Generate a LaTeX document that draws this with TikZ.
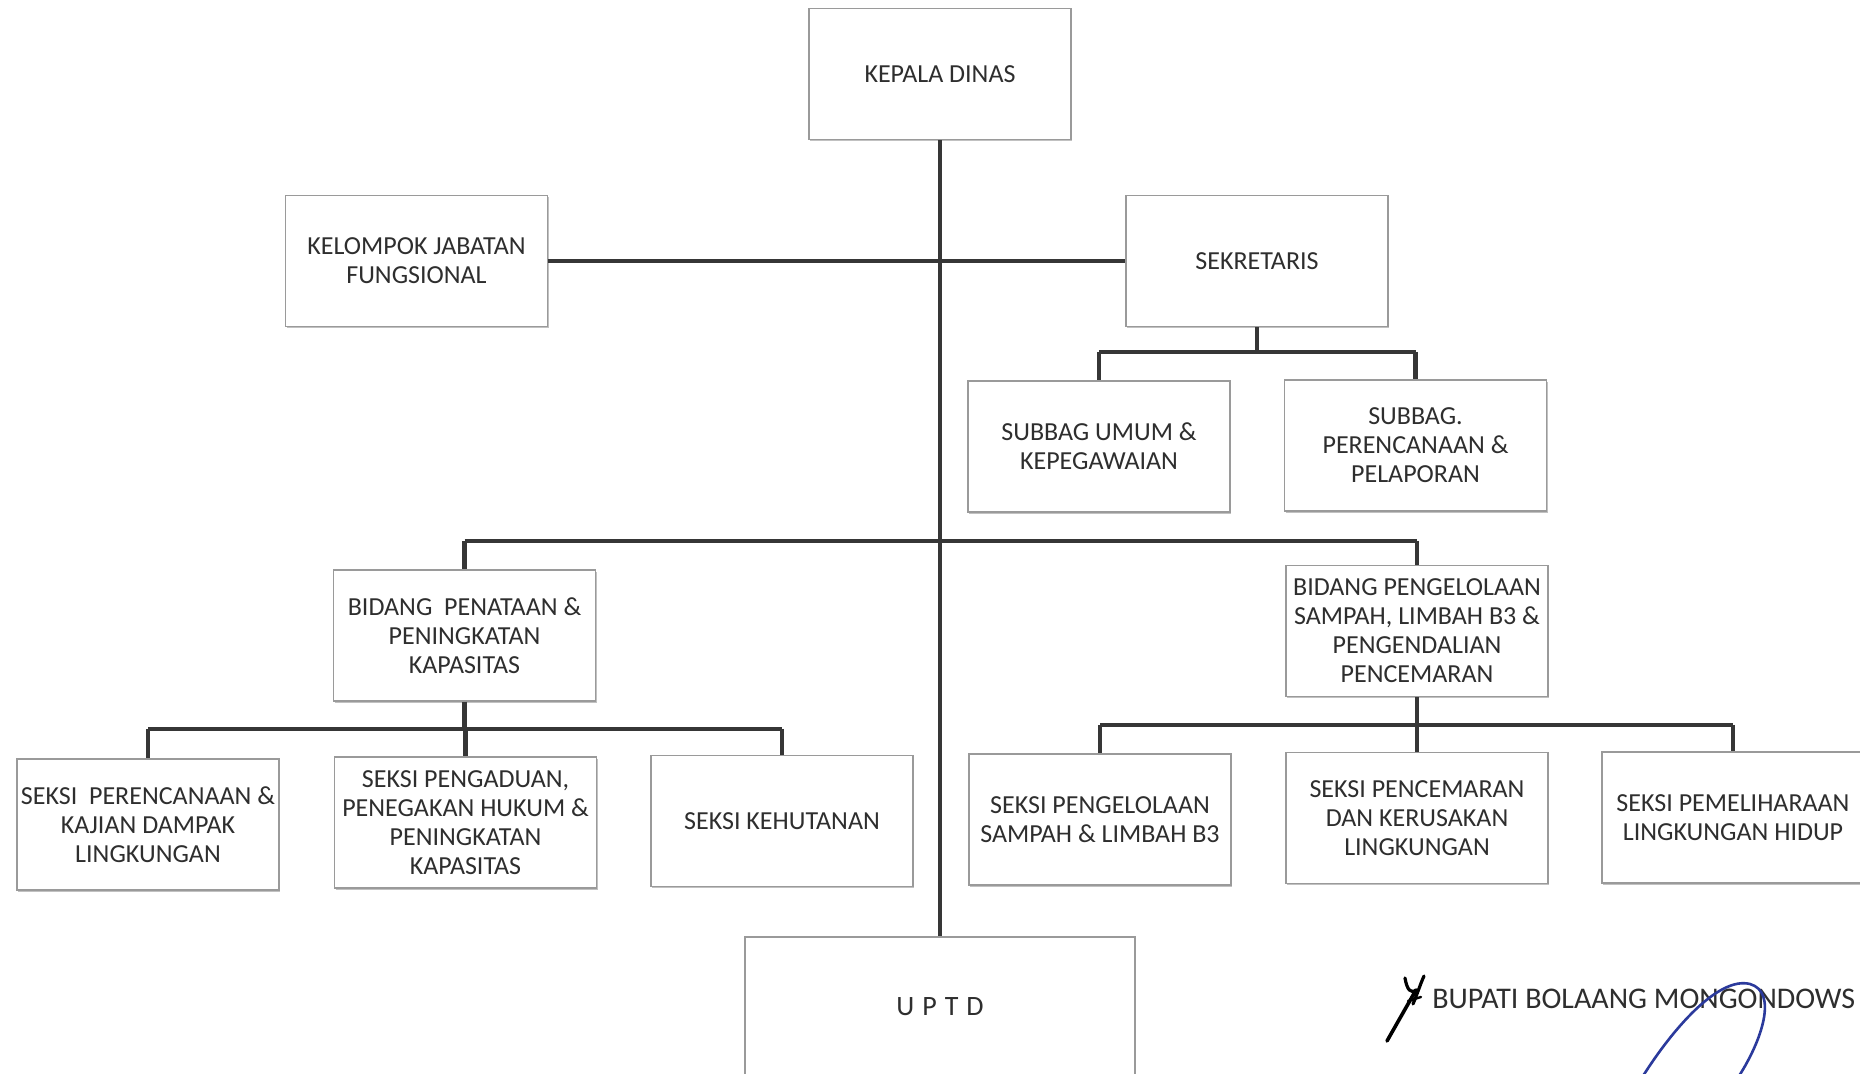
\documentclass[tikz,border=0pt]{standalone}
\usepackage{fontspec}
\setmainfont{Carlito}
\usetikzlibrary{shadows}
\definecolor{ink}{HTML}{2E2E2E}
\definecolor{edgec}{HTML}{9A9A9A}
\definecolor{wirec}{HTML}{363636}
\definecolor{sigc}{HTML}{2B3A9C}
\begin{document}
\begin{tikzpicture}[x=0.5pt,y=-0.5pt,
  box/.style={draw=edgec, line width=0.7pt, fill=white, minimum width=131pt, minimum height=65.5pt,
    align=center, text=ink, font=\fontsize{13}{14.5}\selectfont, inner sep=2pt,
    drop shadow={shadow xshift=0.6pt, shadow yshift=-0.8pt, fill=black!40, opacity=0.6}},
  trunk/.style={draw=wirec, line width=2.1pt},
  bus/.style={draw=wirec, line width=2.4pt},
  stub/.style={draw=wirec, line width=2.2pt}]
\useasboundingbox (0,0) rectangle (1860,1074);
\clip (0,0) rectangle (1860,1074);
\fill[white] (0,0) rectangle (1860,1074);

% nodes
\node[box] (kd)  at (940,74)    {KEPALA DINAS};
\node[box] (kjf) at (416.5,261) {KELOMPOK JABATAN\\FUNGSIONAL};
\node[box] (sek) at (1257,261)  {SEKRETARIS};
\node[box] (sum) at (1099,446.5) {SUBBAG UMUM \&\\KEPEGAWAIAN};
\node[box] (spp) at (1415.5,445.5) {SUBBAG.\\PERENCANAAN \&\\PELAPORAN};
\node[box] (bpp) at (464.5,635.5) {BIDANG \ PENATAAN \&\\PENINGKATAN\\KAPASITAS};
\node[box] (bps) at (1417,631) {BIDANG PENGELOLAAN\\SAMPAH, LIMBAH B3 \&\\PENGENDALIAN\\PENCEMARAN};
\node[box] (s1) at (148,824.5) {SEKSI \ PERENCANAAN \&\\KAJIAN DAMPAK\\LINGKUNGAN};
\node[box] (s2) at (465.5,822.5) {SEKSI PENGADUAN,\\PENEGAKAN HUKUM \&\\PENINGKATAN\\KAPASITAS};
\node[box] (s3) at (782,821) {SEKSI KEHUTANAN};
\node[box] (s4) at (1100,819.5) {SEKSI PENGELOLAAN\\SAMPAH \& LIMBAH B3};
\node[box] (s5) at (1417,818) {SEKSI PENCEMARAN\\DAN KERUSAKAN\\LINGKUNGAN};
\node[box] (s6) at (1733,817.5) {SEKSI PEMELIHARAAN\\LINGKUNGAN HIDUP};
\node[box, minimum width=195pt, minimum height=70pt, font=\fontsize{14}{16}\selectfont] (uptd) at (940,1007)
  {U\kern4pt P\kern4pt T\kern4pt D};

% bus coordinates
\coordinate (sekbus) at (1257,352);
\coordinate (bidbus) at (940,541);
\coordinate (lbus) at (464,729);
\coordinate (rbus) at (1417,725);

% connectors
\draw[trunk] (kd.south) -- (uptd.north);
\draw[trunk] (kjf.east) -- (sek.west);

\draw[stub] (sek.south) -- (sek.south |- sekbus);
\draw[bus] (sum.north |- sekbus) -- (spp.north |- sekbus);
\draw[stub] (sum.north |- sekbus) -- (sum.north);
\draw[stub] (spp.north |- sekbus) -- (spp.north);

\draw[bus] (bpp.north |- bidbus) -- (bps.north |- bidbus);
\draw[stub] (bpp.north |- bidbus) -- (bpp.north);
\draw[stub] (bps.north |- bidbus) -- (bps.north);

\draw[stub] (bpp.south) -- (bpp.south |- lbus);
\draw[bus] (s1.north |- lbus) -- (s3.north |- lbus);
\draw[stub] (s1.north |- lbus) -- (s1.north);
\draw[stub] (s2.north |- lbus) -- (s2.north);
\draw[stub] (s3.north |- lbus) -- (s3.north);

\draw[stub] (bps.south) -- (bps.south |- rbus);
\draw[bus] (s4.north |- rbus) -- (s6.north |- rbus);
\draw[stub] (s4.north |- rbus) -- (s4.north);
\draw[stub] (s5.north |- rbus) -- (s5.north);
\draw[stub] (s6.north |- rbus) -- (s6.north);

% signature block
\node[anchor=west, text=ink, font=\fontsize{15}{17}\selectfont, inner sep=0pt] (bup) at (1432,999)
  {BUPATI BOLAANG MONGONDOWS};
\draw[black, line width=1.8pt, line cap=round] (1387,1041) -- (1416,990);
\draw[black, line width=1.6pt, line cap=round] (1405,978) .. controls (1407,990) and (1411,994) .. (1416,990);
\draw[black, line width=1.6pt, line cap=round] (1424,976) .. controls (1420,985) and (1418,992) .. (1413,1004);
\draw[black, line width=1.2pt, line cap=round] (1408,1001) -- (1421,997);
\draw[sigc, line width=1.3pt] (1643,1076) .. controls (1672,1030) and (1718,976) .. (1750,984)
  .. controls (1778,992) and (1762,1040) .. (1739,1076);
\end{tikzpicture}
\end{document}
